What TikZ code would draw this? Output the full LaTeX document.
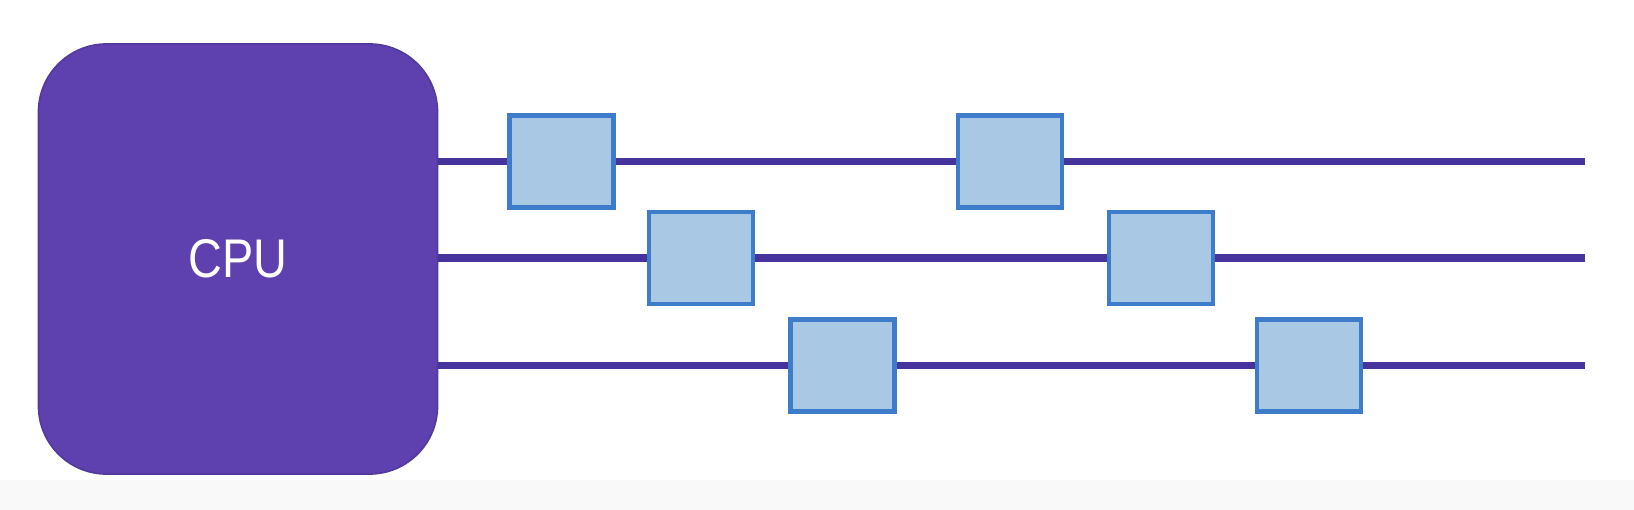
\documentclass[tikz,border=0pt]{standalone}
\usepackage{fontspec}
\setmainfont{Liberation Sans}
\usetikzlibrary{positioning}
\definecolor{cpufill}{HTML}{5E41AE}
\definecolor{cpuedge}{HTML}{533A9F}
\definecolor{busline}{HTML}{46339C}
\definecolor{devfill}{HTML}{A8C8E4}
\definecolor{devedge}{HTML}{3D7CCB}
\tikzset{
  cpubox/.style={draw=cpuedge,line width=1pt,fill=cpufill,rounded corners=1.36cm,
    minimum width=7.98cm,minimum height=8.6cm,inner sep=0pt,
    text=white,font=\fontsize{31}{33}\selectfont},
  devbox/.style={draw=devedge,line width=2.6pt,fill=devfill,
    minimum width=2.08cm,minimum height=1.84cm,inner sep=0pt},
  bus/.style={draw=busline,line width=4.3pt}
}
\begin{document}
\begin{tikzpicture}[x=0.02cm,y=-0.02cm]
  \useasboundingbox (0,0) rectangle (1634,510);
  \fill[black!2.5] (0,480) rectangle (1634,510);
  \node[cpubox] (cpu) at (238,259) {\scalebox{0.86}[1]{CPU}};
  % first row of devices
  \node[devbox] (d1) at (561.5,161.5) {};
  \node[devbox] (d2) at (1010,161.5) {};
  % second row
  \node[devbox] (d3) at (701,258) {};
  \node[devbox] (d4) at (1161,258) {};
  % third row
  \node[devbox] (d5) at (842.5,365.5) {};
  \node[devbox] (d6) at (1309,365.5) {};
  \coordinate (e1) at (1585,161.5);
  \coordinate (e2) at (1585,258);
  \coordinate (e3) at (1585,365.5);
  \draw[bus] (cpu.east |- d1.west) -- (d1.west);
  \draw[bus] (d1.east) -- (d2.west);
  \draw[bus] (d2.east) -- (e1);
  \draw[bus] (cpu.east |- d3.west) -- (d3.west);
  \draw[bus] (d3.east) -- (d4.west);
  \draw[bus] (d4.east) -- (e2);
  \draw[bus] (cpu.east |- d5.west) -- (d5.west);
  \draw[bus] (d5.east) -- (d6.west);
  \draw[bus] (d6.east) -- (e3);
\end{tikzpicture}
\end{document}
